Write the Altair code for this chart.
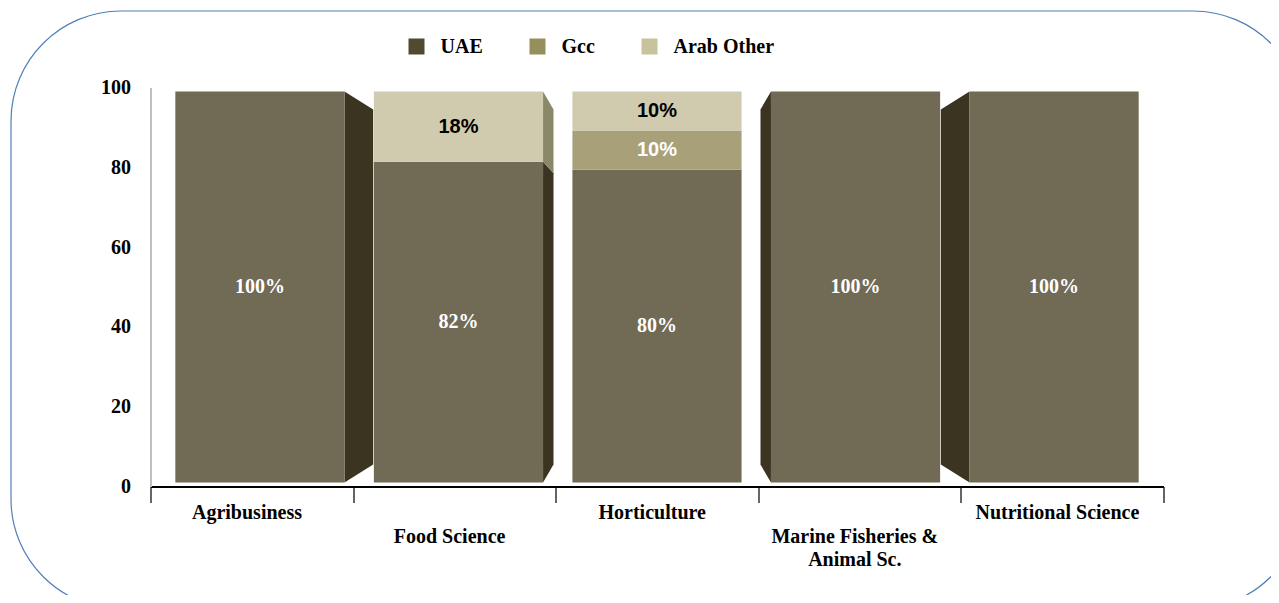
import json
import pandas as pd
import altair as alt

# ---------------- data ----------------
categories = ["Agribusiness", "Food Science", "Horticulture",
              "Marine Fisheries & Animal Sc.", "Nutritional Science"]
category_label_lines = [["Agribusiness"], ["", "Food Science"], ["Horticulture"],
                        ["", "Marine Fisheries &", "Animal Sc."], ["Nutritional Science"]]
series = ["UAE", "Gcc", "Arab Other"]
uae = [100, 82, 80, 100, 100]
gcc = [0, 0, 10, 0, 0]
arab_other = [0, 18, 10, 0, 0]
y_ticks = [0, 20, 40, 60, 80, 100]

# ---------------- style ----------------
legend_colors = ["#4F4A31", "#968E5B", "#C8C29D"]
front_colors = {"UAE": "#716B56", "Gcc": "#A8A078", "Arab Other": "#D0CBAF"}
side_colors = {"UAE": "#3A3421", "Gcc": "#6E6A4C", "Arab Other": "#8B8769"}
label_colors = {"UAE": "white", "Gcc": "white", "Arab Other": "black"}
label_fonts = {"UAE": "Liberation Serif", "Gcc": "Liberation Sans", "Arab Other": "Liberation Sans"}
SERIF = "Liberation Serif"

BAR = 0.852    # bar width, in category bands
FRONT = 0.98   # perspective factor of the front faces
BACK = 0.89    # perspective factor of the back faces
W, H = 1013, 399

n = len(categories)
CX, CY = n / 2, 50


def px(x, f):
    return CX + f * (x - CX)


def py(y, f):
    return CY + f * (y - CY)


values = {"UAE": uae, "Gcc": gcc, "Arab Other": arab_other}
faces, sides, labels = [], [], []
for i, cat in enumerate(categories):
    base = 0
    for s in series:
        v = values[s][i]
        if v <= 0:
            continue
        lo, hi = base, base + v
        base = hi
        xl, xr = i + 0.5 - BAR / 2, i + 0.5 + BAR / 2
        faces.append(dict(category=cat, series=s,
                          x0=px(xl, FRONT), x1=px(xr, FRONT),
                          y0=py(lo, FRONT), y1=py(hi, FRONT),
                          fill=front_colors[s]))
        for k, edge in enumerate((xl, xr)):
            fx, bx = px(edge, FRONT), px(edge, BACK)
            visible = (k == 1 and bx > fx) or (k == 0 and bx < fx)
            if visible:
                for xx, f in ((fx, FRONT), (bx, BACK)):
                    sides.append(dict(seg=f"{cat}|{s}|{k}", x=xx,
                                      ylo=py(lo, f), yhi=py(hi, f),
                                      fill=side_colors[s]))
        labels.append(dict(category=cat, series=s,
                           x=px(i + 0.5, FRONT), y=py((lo + hi) / 2, FRONT),
                           text=f"{v}%", fill=label_colors[s], font=label_fonts[s]))

faces_df = pd.DataFrame(faces)
sides_df = pd.DataFrame(sides)
labels_df = pd.DataFrame(labels)

xscale = alt.Scale(domain=[0, n], nice=False, zero=False)
yscale = alt.Scale(domain=[0, 100], nice=False)

label_expr = f"{json.dumps(category_label_lines)}[datum.value] || ''"
x_axis = alt.Axis(values=list(range(n + 1)), tickSize=16, tickWidth=1.5, tickColor="#333333",
                  domainColor="black", domainWidth=2, grid=False,
                  labelExpr=label_expr, labelOffset=96, labelPadding=0,
                  labelFlush=False, labelAlign="center", labelBaseline="top",
                  labelFont=SERIF, labelFontWeight="bold", labelFontSize=20,
                  labelColor="black", labelLineHeight=23.5, labelOverlap=False,
                  title=None)
y_axis = alt.Axis(values=y_ticks, ticks=False, domainColor="#BFBFBF", domainWidth=2,
                  grid=False, labelFont=SERIF, labelFontWeight="bold", labelFontSize=20,
                  labelColor="black", labelPadding=20, title=None)

border = alt.Chart(pd.DataFrame({"a": [0]})).mark_rect(
    filled=False, stroke="#4F7FBA", strokeWidth=1.2, cornerRadius=110
).encode(x=alt.value(-139.5), x2=alt.value(1152.5), y=alt.value(-76.5), y2=alt.value(521.5))

side_layer = alt.Chart(sides_df).mark_area(strokeWidth=0).encode(
    x=alt.X("x:Q", scale=xscale, axis=x_axis),
    y=alt.Y("ylo:Q", scale=yscale, axis=y_axis),
    y2="yhi:Q",
    detail="seg:N",
    fill=alt.Fill("fill:N", scale=None),
)

face_layer = alt.Chart(faces_df).mark_rect(strokeWidth=0).encode(
    x=alt.X("x0:Q", scale=xscale, axis=x_axis),
    x2="x1:Q",
    y=alt.Y("y0:Q", scale=yscale, axis=y_axis),
    y2="y1:Q",
    fill=alt.Fill("fill:N", scale=None),
)

serif_labels = alt.Chart(labels_df[labels_df.font == SERIF]).mark_text(
    font=SERIF, fontWeight="bold", fontSize=20, align="center", baseline="middle"
).encode(
    x=alt.X("x:Q", scale=xscale, axis=x_axis),
    y=alt.Y("y:Q", scale=yscale, axis=y_axis),
    text="text:N",
    fill=alt.Fill("fill:N", scale=None),
)

sans_labels = alt.Chart(labels_df[labels_df.font != SERIF]).mark_text(
    font="Liberation Sans", fontWeight="bold", fontSize=20, align="center", baseline="middle"
).encode(
    x=alt.X("x:Q", scale=xscale, axis=x_axis),
    y=alt.Y("y:Q", scale=yscale, axis=y_axis),
    text="text:N",
    fill=alt.Fill("fill:N", scale=None),
)

legend_layer = alt.Chart(pd.DataFrame({"series": series})).mark_square(
    opacity=0, size=10
).encode(
    color=alt.Color("series:N", scale=alt.Scale(domain=series, range=legend_colors),
                    legend=alt.Legend(orient="none", legendX=256, legendY=-51,
                                      direction="horizontal", title=None,
                                      symbolType="square", symbolSize=256,
                                      symbolOpacity=1, symbolStrokeWidth=0,
                                      labelFont=SERIF, labelFontWeight="bold",
                                      labelFontSize=20, labelColor="black",
                                      labelOffset=14, columnPadding=44, padding=0,
                                      labelLimit=400))
)

chart = alt.layer(border, side_layer, face_layer, serif_labels, sans_labels, legend_layer).properties(
    width=W, height=H,
    autosize=alt.AutoSizeParams(type="none"),
    padding={"left": 142.5, "top": 79.5, "right": 107.5, "bottom": 108.5},
    background="white",
).configure_view(stroke=None)

chart.save("out.html", embed_options={"renderer": "svg", "actions": False})
